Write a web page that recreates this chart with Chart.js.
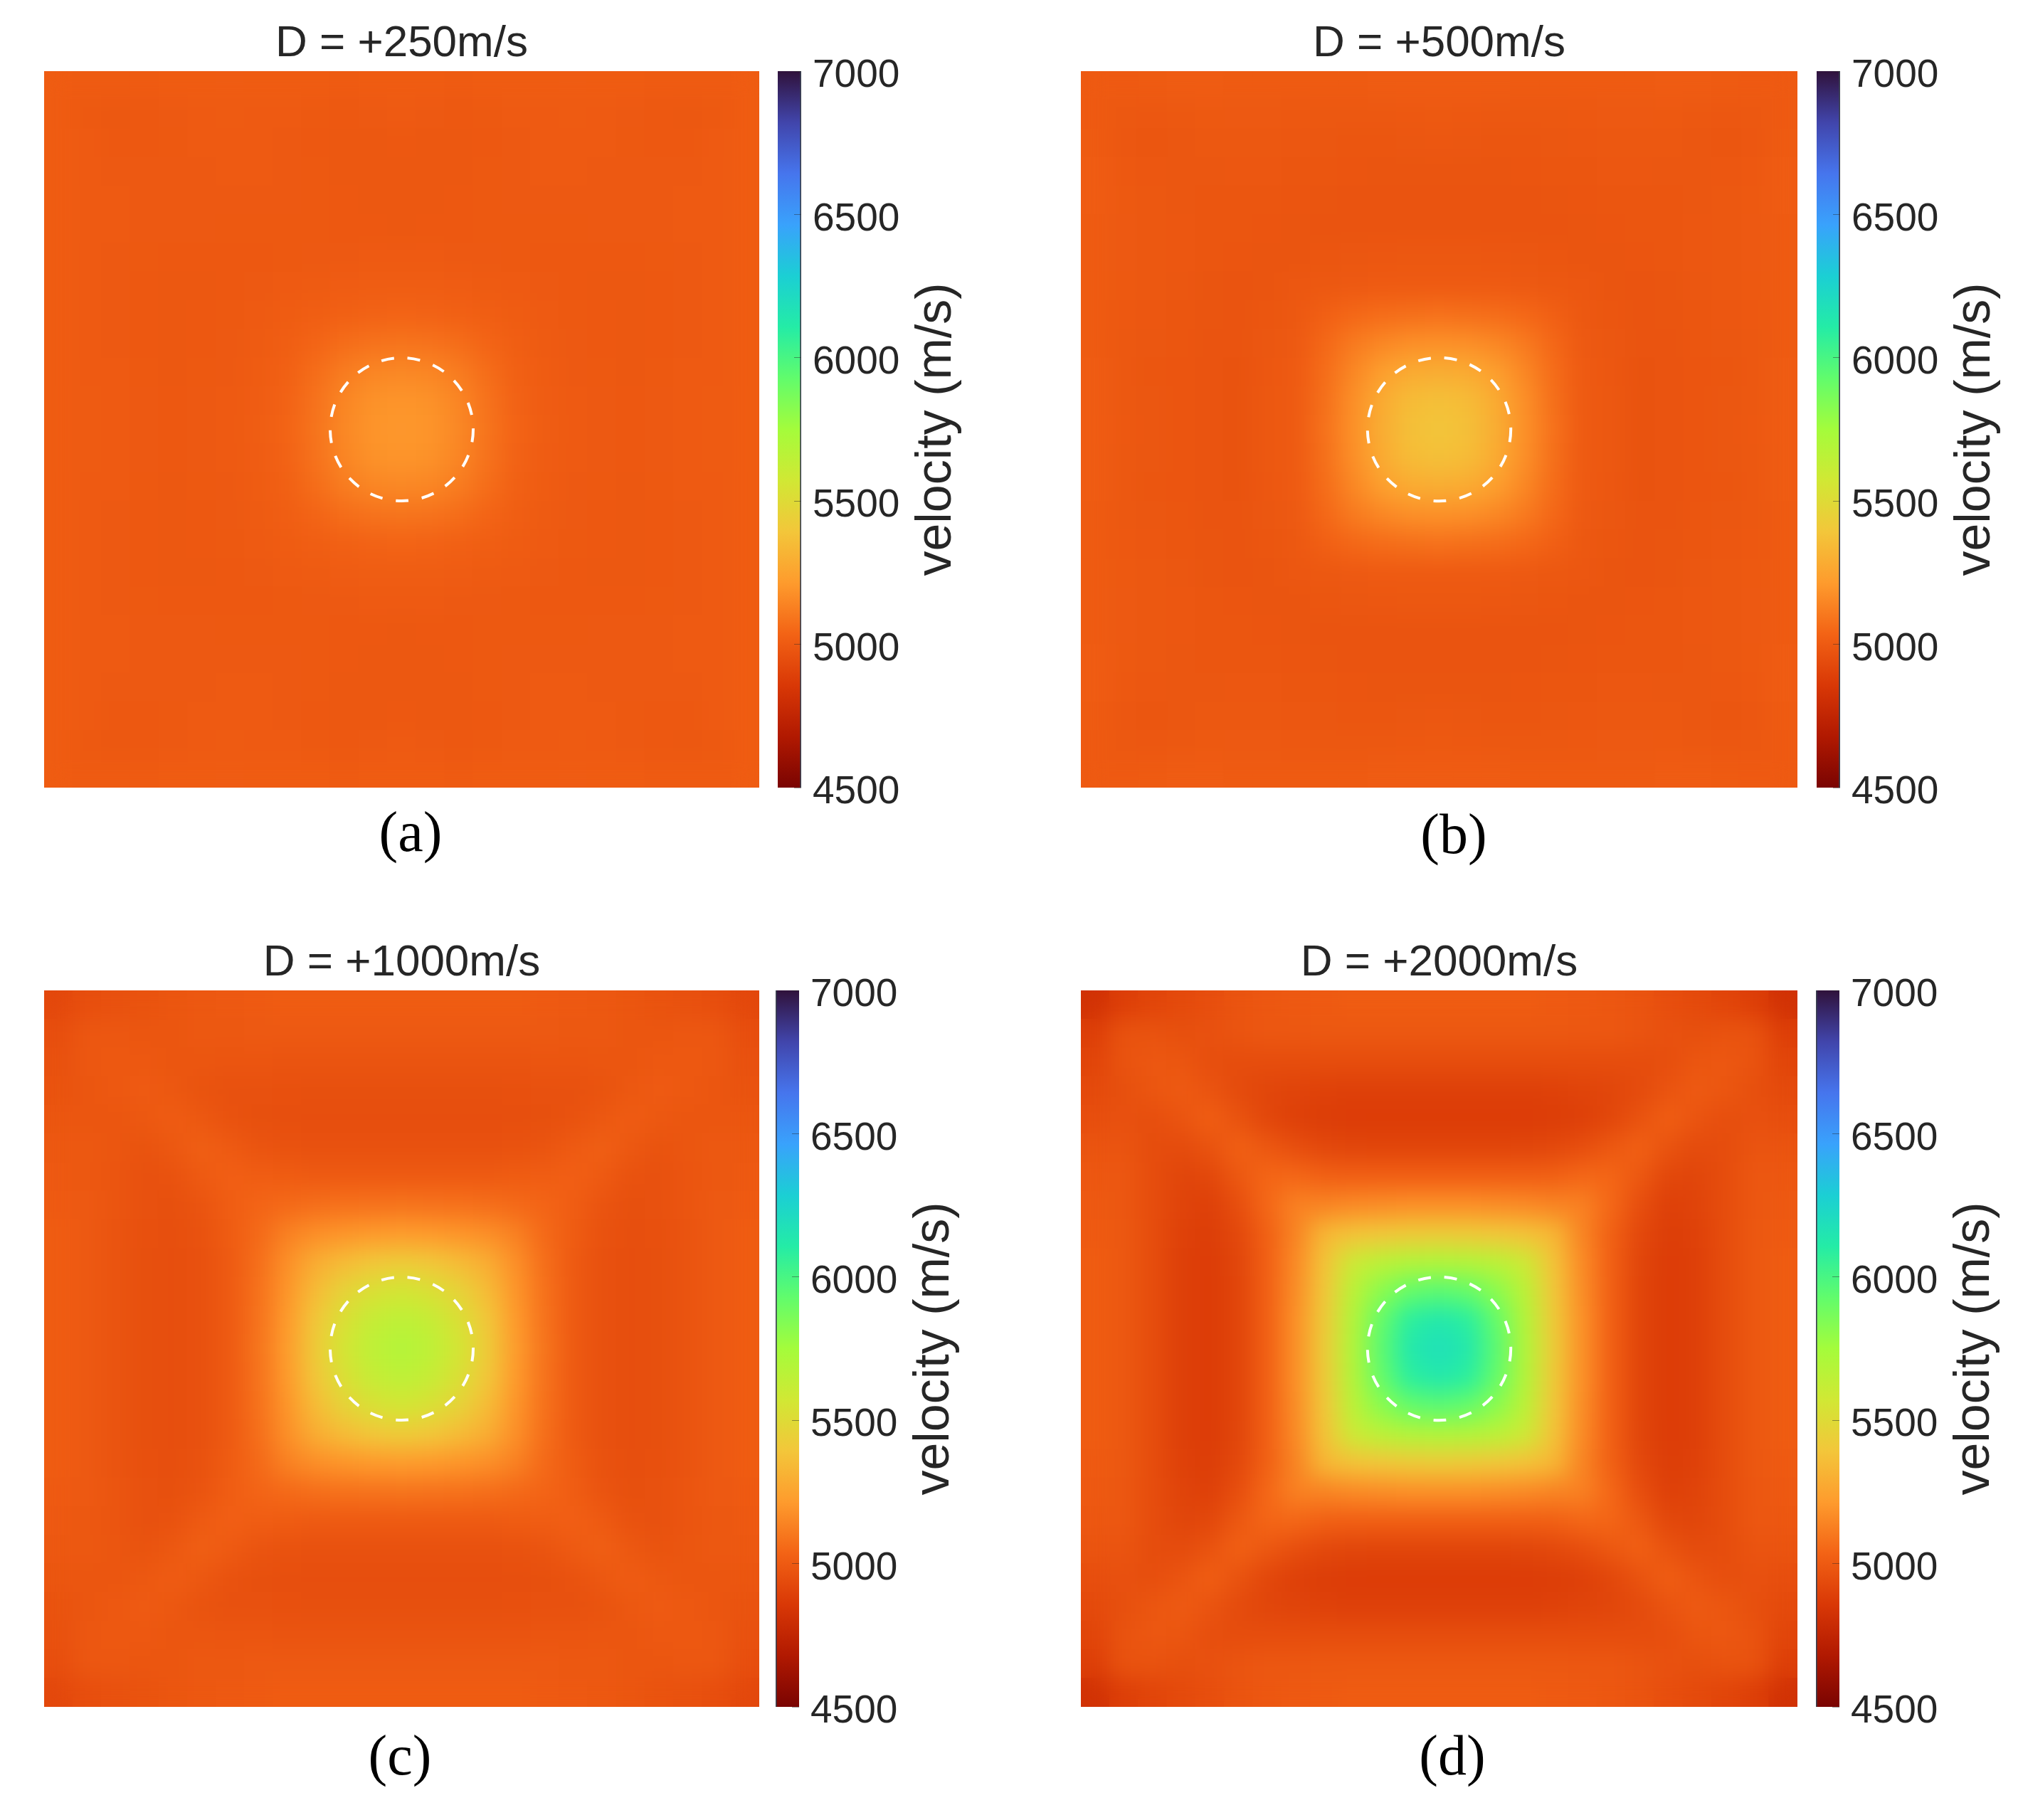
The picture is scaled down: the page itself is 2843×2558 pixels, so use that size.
<!DOCTYPE html>
<html>
<head>
<meta charset="utf-8">
<script src="https://cdn.jsdelivr.net/npm/chart.js@4"></script>
<style>
  html, body { margin: 0; padding: 0; background: #fff; }
  body { position: relative; width: 2843px; height: 2558px; overflow: hidden; }
  canvas { position: absolute; }
</style>
</head>
<body>
<script>
'use strict';

// Velocity, m/s, top row first
const velocityA = [
  [5005,5002,5002,5004,5005,5005,5006,5005,5005,5005,5004,5005,5005,5005,5004,5005,5005,5005,5006,5005,5005,5004,5002,5002,5005],
  [5005,4994,4990,4992,4996,5000,5002,5000,4998,4994,4992,4996,4998,4996,4992,4994,4998,5000,5002,5000,4996,4992,4990,4994,5005],
  [5005,4998,4992,4992,4994,4998,5000,4998,4996,4992,4988,4990,4992,4990,4988,4992,4996,4998,5000,4998,4994,4992,4992,4998,5005],
  [5005,5000,4996,4995,4995,4996,4998,4998,4996,4994,4990,4988,4990,4988,4990,4994,4996,4998,4998,4996,4995,4995,4996,5000,5005],
  [5005,5000,4998,4996,4996,4996,4996,4996,4995,4994,4992,4990,4988,4990,4992,4994,4995,4996,4996,4996,4996,4996,4998,5000,5005],
  [5005,5000,4998,4996,4995,4995,4994,4994,4994,4994,4992,4992,4990,4992,4992,4994,4994,4994,4994,4995,4995,4996,4998,5000,5005],
  [5005,5000,4996,4994,4992,4992,4992,4992,4994,4995,4996,4998,4998,4998,4996,4995,4994,4992,4992,4992,4992,4994,4996,5000,5005],
  [5005,5000,4996,4992,4990,4990,4992,4995,4998,5002,5008,5010,5010,5010,5008,5002,4998,4995,4992,4990,4990,4992,4996,5000,5005],
  [5005,5000,4996,4992,4990,4992,4994,4998,5005,5015,5025,5032,5035,5032,5025,5015,5005,4998,4994,4992,4990,4992,4996,5000,5005],
  [5005,5000,4996,4992,4990,4992,4995,5002,5015,5040,5068,5085,5090,5085,5068,5040,5015,5002,4995,4992,4990,4992,4996,5000,5005],
  [5005,5000,4998,4994,4990,4994,4996,5005,5025,5068,5115,5148,5155,5148,5115,5068,5025,5005,4996,4994,4990,4994,4998,5000,5005],
  [5005,5002,4998,4995,4992,4995,4998,5008,5032,5085,5148,5185,5195,5185,5148,5085,5032,5008,4998,4995,4992,4995,4998,5002,5005],
  [5005,5002,4998,4995,4992,4995,4998,5010,5035,5090,5155,5195,5205,5195,5155,5090,5035,5010,4998,4995,4992,4995,4998,5002,5005],
  [5005,5002,4998,4995,4992,4995,4998,5008,5032,5085,5148,5185,5195,5185,5148,5085,5032,5008,4998,4995,4992,4995,4998,5002,5005],
  [5005,5000,4998,4994,4990,4994,4996,5005,5025,5068,5115,5148,5155,5148,5115,5068,5025,5005,4996,4994,4990,4994,4998,5000,5005],
  [5005,5000,4996,4992,4990,4992,4995,5002,5015,5040,5068,5085,5090,5085,5068,5040,5015,5002,4995,4992,4990,4992,4996,5000,5005],
  [5005,5000,4996,4992,4990,4992,4994,4998,5005,5015,5025,5032,5035,5032,5025,5015,5005,4998,4994,4992,4990,4992,4996,5000,5005],
  [5005,5000,4996,4992,4990,4990,4992,4995,4998,5002,5008,5010,5010,5010,5008,5002,4998,4995,4992,4990,4990,4992,4996,5000,5005],
  [5005,5000,4996,4994,4992,4992,4992,4992,4994,4995,4996,4998,4998,4998,4996,4995,4994,4992,4992,4992,4992,4994,4996,5000,5005],
  [5005,5000,4998,4996,4995,4995,4994,4994,4994,4994,4992,4992,4990,4992,4992,4994,4994,4994,4994,4995,4995,4996,4998,5000,5005],
  [5005,5000,4998,4996,4996,4996,4996,4996,4995,4994,4992,4990,4988,4990,4992,4994,4995,4996,4996,4996,4996,4996,4998,5000,5005],
  [5005,5000,4996,4995,4995,4996,4998,4998,4996,4994,4990,4988,4990,4988,4990,4994,4996,4998,4998,4996,4995,4995,4996,5000,5005],
  [5005,4998,4992,4992,4994,4998,5000,4998,4996,4992,4988,4990,4992,4990,4988,4992,4996,4998,5000,4998,4994,4992,4992,4998,5005],
  [5005,4994,4990,4992,4996,5000,5002,5000,4998,4994,4992,4996,4998,4996,4992,4994,4998,5000,5002,5000,4996,4992,4990,4994,5005],
  [5005,5002,5002,5004,5005,5005,5006,5005,5005,5005,5004,5005,5005,5005,5004,5005,5005,5005,5006,5005,5005,5004,5002,5002,5005]
];

const velocityB = [
  [5000,5000,5004,5006,5006,5004,5004,5002,5004,5004,5006,5006,5008,5006,5006,5004,5004,5002,5004,5004,5006,5006,5004,5000,5000],
  [5000,4990,4986,4990,4994,4996,4996,4992,4990,4988,4990,4992,4994,4992,4990,4988,4990,4992,4996,4996,4994,4990,4986,4990,5000],
  [5004,4986,4982,4984,4988,4990,4990,4986,4984,4982,4982,4984,4986,4984,4982,4982,4984,4986,4990,4990,4988,4984,4982,4986,5004],
  [5006,4992,4986,4984,4984,4986,4986,4982,4980,4978,4976,4976,4976,4976,4976,4978,4980,4982,4986,4986,4984,4984,4986,4992,5006],
  [5006,4994,4988,4984,4982,4982,4982,4978,4976,4974,4972,4972,4972,4972,4972,4974,4976,4978,4982,4982,4982,4984,4988,4994,5006],
  [5004,4996,4990,4986,4982,4980,4978,4976,4974,4974,4974,4974,4974,4974,4974,4974,4974,4976,4978,4980,4982,4986,4990,4996,5004],
  [5004,4996,4990,4986,4980,4978,4976,4976,4980,4984,4986,4988,4990,4988,4986,4984,4980,4976,4976,4978,4980,4986,4990,4996,5004],
  [5002,4994,4988,4984,4976,4974,4976,4985,4990,4995,5000,5000,5000,5000,5000,4995,4990,4985,4976,4974,4976,4984,4988,4994,5002],
  [5004,4992,4986,4982,4976,4974,4980,4990,5020,5050,5065,5075,5080,5075,5065,5050,5020,4990,4980,4974,4976,4982,4986,4992,5004],
  [5004,4990,4984,4980,4974,4972,4984,4995,5050,5110,5150,5175,5180,5175,5150,5110,5050,4995,4984,4972,4974,4980,4984,4990,5004],
  [5006,4988,4982,4978,4972,4970,4986,5000,5065,5150,5230,5280,5290,5280,5230,5150,5065,5000,4986,4970,4972,4978,4982,4988,5006],
  [5006,4990,4984,4978,4972,4970,4988,5000,5075,5175,5280,5350,5370,5350,5280,5175,5075,5000,4988,4970,4972,4978,4984,4990,5006],
  [5008,4992,4984,4978,4972,4970,4990,5000,5080,5180,5290,5370,5390,5370,5290,5180,5080,5000,4990,4970,4972,4978,4984,4992,5008],
  [5006,4990,4984,4978,4972,4970,4988,5000,5075,5175,5280,5350,5370,5350,5280,5175,5075,5000,4988,4970,4972,4978,4984,4990,5006],
  [5006,4988,4982,4978,4972,4970,4986,5000,5065,5150,5230,5280,5290,5280,5230,5150,5065,5000,4986,4970,4972,4978,4982,4988,5006],
  [5004,4990,4984,4980,4974,4972,4984,4995,5050,5110,5150,5175,5180,5175,5150,5110,5050,4995,4984,4972,4974,4980,4984,4990,5004],
  [5004,4992,4986,4982,4976,4974,4980,4990,5020,5050,5065,5075,5080,5075,5065,5050,5020,4990,4980,4974,4976,4982,4986,4992,5004],
  [5002,4994,4988,4984,4976,4974,4976,4985,4990,4995,5000,5000,5000,5000,5000,4995,4990,4985,4976,4974,4976,4984,4988,4994,5002],
  [5004,4996,4990,4986,4980,4978,4976,4976,4980,4984,4986,4988,4990,4988,4986,4984,4980,4976,4976,4978,4980,4986,4990,4996,5004],
  [5004,4996,4990,4986,4982,4980,4978,4976,4974,4974,4974,4974,4974,4974,4974,4974,4974,4976,4978,4980,4982,4986,4990,4996,5004],
  [5006,4994,4988,4984,4982,4982,4982,4978,4976,4974,4972,4972,4972,4972,4972,4974,4976,4978,4982,4982,4982,4984,4988,4994,5006],
  [5006,4992,4986,4984,4984,4986,4986,4982,4980,4978,4976,4976,4976,4976,4976,4978,4980,4982,4986,4986,4984,4984,4986,4992,5006],
  [5004,4986,4982,4984,4988,4990,4990,4986,4984,4982,4982,4984,4986,4984,4982,4982,4984,4986,4990,4990,4988,4984,4982,4986,5004],
  [5000,4990,4986,4990,4994,4996,4996,4992,4990,4988,4990,4992,4994,4992,4990,4988,4990,4992,4996,4996,4994,4990,4986,4990,5000],
  [5000,5000,5004,5006,5006,5004,5004,5002,5004,5004,5006,5006,5008,5006,5006,5004,5004,5002,5004,5004,5006,5006,5004,5000,5000]
];

const velocityC = [
  [4925,4950,4960,4970,4980,4990,4995,5000,5005,5005,5005,5005,5005,5005,5005,5005,5005,5000,4995,4990,4980,4970,4960,4950,4925],
  [4950,4985,4985,4980,4980,4988,4990,4995,4995,4995,4995,4995,4995,4995,4995,4995,4995,4995,4990,4988,4980,4980,4985,4985,4950],
  [4960,4985,4992,4992,4980,4980,4978,4978,4975,4975,4975,4975,4975,4975,4975,4975,4975,4978,4978,4980,4980,4992,4992,4985,4960],
  [4970,4980,4992,4998,4990,4970,4962,4960,4958,4955,4955,4955,4955,4955,4955,4955,4958,4960,4962,4970,4990,4998,4992,4980,4970],
  [4980,4980,4980,4990,5005,4990,4965,4955,4952,4950,4950,4950,4950,4950,4950,4950,4952,4955,4965,4990,5005,4990,4980,4980,4980],
  [4990,4988,4980,4970,4990,5018,5000,4975,4965,4962,4960,4960,4960,4960,4960,4962,4965,4975,5000,5018,4990,4970,4980,4988,4990],
  [4995,4990,4978,4962,4965,5000,5020,5012,5005,5000,5000,5000,5000,5000,5000,5000,5005,5012,5020,5000,4965,4962,4978,4990,4995],
  [5000,4995,4978,4960,4955,4975,5012,5040,5055,5070,5080,5085,5090,5085,5080,5070,5055,5040,5012,4975,4955,4960,4978,4995,5000],
  [5005,4995,4975,4958,4952,4965,5005,5055,5130,5175,5195,5210,5220,5210,5195,5175,5130,5055,5005,4965,4952,4958,4975,4995,5005],
  [5005,4995,4975,4955,4950,4962,5000,5070,5175,5290,5350,5400,5420,5400,5350,5290,5175,5070,5000,4962,4950,4955,4975,4995,5005],
  [5005,4995,4975,4955,4950,4960,5000,5080,5195,5350,5460,5530,5560,5530,5460,5350,5195,5080,5000,4960,4950,4955,4975,4995,5005],
  [5005,4995,4975,4955,4950,4960,5000,5085,5210,5400,5530,5620,5650,5620,5530,5400,5210,5085,5000,4960,4950,4955,4975,4995,5005],
  [5005,4995,4975,4955,4950,4960,5000,5090,5220,5420,5560,5650,5690,5650,5560,5420,5220,5090,5000,4960,4950,4955,4975,4995,5005],
  [5005,4995,4975,4955,4950,4960,5000,5085,5210,5400,5530,5620,5650,5620,5530,5400,5210,5085,5000,4960,4950,4955,4975,4995,5005],
  [5005,4995,4975,4955,4950,4960,5000,5080,5195,5350,5460,5530,5560,5530,5460,5350,5195,5080,5000,4960,4950,4955,4975,4995,5005],
  [5005,4995,4975,4955,4950,4962,5000,5070,5175,5290,5350,5400,5420,5400,5350,5290,5175,5070,5000,4962,4950,4955,4975,4995,5005],
  [5005,4995,4975,4958,4952,4965,5005,5055,5130,5175,5195,5210,5220,5210,5195,5175,5130,5055,5005,4965,4952,4958,4975,4995,5005],
  [5000,4995,4978,4960,4955,4975,5012,5040,5055,5070,5080,5085,5090,5085,5080,5070,5055,5040,5012,4975,4955,4960,4978,4995,5000],
  [4995,4990,4978,4962,4965,5000,5020,5012,5005,5000,5000,5000,5000,5000,5000,5000,5005,5012,5020,5000,4965,4962,4978,4990,4995],
  [4990,4988,4980,4970,4990,5018,5000,4975,4965,4962,4960,4960,4960,4960,4960,4962,4965,4975,5000,5018,4990,4970,4980,4988,4990],
  [4980,4980,4980,4990,5005,4990,4965,4955,4952,4950,4950,4950,4950,4950,4950,4950,4952,4955,4965,4990,5005,4990,4980,4980,4980],
  [4970,4980,4992,4998,4990,4970,4962,4960,4958,4955,4955,4955,4955,4955,4955,4955,4958,4960,4962,4970,4990,4998,4992,4980,4970],
  [4960,4985,4992,4992,4980,4980,4978,4978,4975,4975,4975,4975,4975,4975,4975,4975,4975,4978,4978,4980,4980,4992,4992,4985,4960],
  [4950,4985,4985,4980,4980,4988,4990,4995,4995,4995,4995,4995,4995,4995,4995,4995,4995,4995,4990,4988,4980,4980,4985,4985,4950],
  [4925,4950,4960,4970,4980,4990,4995,5000,5005,5005,5005,5005,5005,5005,5005,5005,5005,5000,4995,4990,4980,4970,4960,4950,4925]
];

const velocityD = [
  [4820,4885,4910,4930,4950,4975,4985,4995,5000,5005,5005,5005,5005,5005,5005,5005,5000,4995,4985,4975,4950,4930,4910,4885,4820],
  [4885,4970,4970,4955,4960,4975,4985,4985,4990,4990,4990,4990,4990,4990,4990,4990,4990,4985,4985,4975,4960,4955,4970,4970,4885],
  [4910,4970,4985,4980,4950,4945,4945,4945,4945,4945,4945,4945,4945,4945,4945,4945,4945,4945,4945,4945,4950,4980,4985,4970,4910],
  [4930,4955,4980,4998,4975,4935,4915,4905,4895,4890,4890,4890,4890,4890,4890,4890,4895,4905,4915,4935,4975,4998,4980,4955,4930],
  [4950,4960,4950,4975,5015,4970,4920,4890,4880,4875,4875,4875,4875,4875,4875,4875,4880,4890,4920,4970,5015,4975,4950,4960,4950],
  [4975,4975,4945,4935,4970,5025,4990,4950,4925,4915,4910,4910,4910,4910,4910,4915,4925,4950,4990,5025,4970,4935,4945,4975,4975],
  [4985,4985,4945,4915,4920,4990,5045,5050,5025,5020,5020,5020,5020,5020,5020,5020,5025,5050,5045,4990,4920,4915,4945,4985,4985],
  [4995,4985,4945,4905,4890,4950,5050,5130,5140,5160,5170,5180,5180,5180,5170,5160,5140,5130,5050,4950,4890,4905,4945,4985,4995],
  [5000,4990,4945,4895,4880,4925,5025,5140,5330,5380,5400,5415,5420,5415,5400,5380,5330,5140,5025,4925,4880,4895,4945,4990,5000],
  [5005,4990,4945,4890,4875,4915,5020,5160,5380,5590,5660,5690,5700,5690,5660,5590,5380,5160,5020,4915,4875,4890,4945,4990,5005],
  [5005,4990,4945,4890,4875,4910,5020,5170,5400,5660,5820,5920,5950,5920,5820,5660,5400,5170,5020,4910,4875,4890,4945,4990,5005],
  [5005,4990,4945,4890,4875,4910,5020,5180,5415,5690,5920,6090,6130,6090,5920,5690,5415,5180,5020,4910,4875,4890,4945,4990,5005],
  [5005,4990,4945,4890,4875,4910,5020,5180,5420,5700,5950,6130,6180,6130,5950,5700,5420,5180,5020,4910,4875,4890,4945,4990,5005],
  [5005,4990,4945,4890,4875,4910,5020,5180,5415,5690,5920,6090,6130,6090,5920,5690,5415,5180,5020,4910,4875,4890,4945,4990,5005],
  [5005,4990,4945,4890,4875,4910,5020,5170,5400,5660,5820,5920,5950,5920,5820,5660,5400,5170,5020,4910,4875,4890,4945,4990,5005],
  [5005,4990,4945,4890,4875,4915,5020,5160,5380,5590,5660,5690,5700,5690,5660,5590,5380,5160,5020,4915,4875,4890,4945,4990,5005],
  [5000,4990,4945,4895,4880,4925,5025,5140,5330,5380,5400,5415,5420,5415,5400,5380,5330,5140,5025,4925,4880,4895,4945,4990,5000],
  [4995,4985,4945,4905,4890,4950,5050,5130,5140,5160,5170,5180,5180,5180,5170,5160,5140,5130,5050,4950,4890,4905,4945,4985,4995],
  [4985,4985,4945,4915,4920,4990,5045,5050,5025,5020,5020,5020,5020,5020,5020,5020,5025,5050,5045,4990,4920,4915,4945,4985,4985],
  [4975,4975,4945,4935,4970,5025,4990,4950,4925,4915,4910,4910,4910,4910,4910,4915,4925,4950,4990,5025,4970,4935,4945,4975,4975],
  [4950,4960,4950,4975,5015,4970,4920,4890,4880,4875,4875,4875,4875,4875,4875,4875,4880,4890,4920,4970,5015,4975,4950,4960,4950],
  [4930,4955,4980,4998,4975,4935,4915,4905,4895,4890,4890,4890,4890,4890,4890,4890,4895,4905,4915,4935,4975,4998,4980,4955,4930],
  [4910,4970,4985,4980,4950,4945,4945,4945,4945,4945,4945,4945,4945,4945,4945,4945,4945,4945,4945,4945,4950,4980,4985,4970,4910],
  [4885,4970,4970,4955,4960,4975,4985,4985,4990,4990,4990,4990,4990,4990,4990,4990,4990,4985,4985,4975,4960,4955,4970,4970,4885],
  [4820,4885,4910,4930,4950,4975,4985,4995,5000,5005,5005,5005,5005,5005,5005,5005,5000,4995,4985,4975,4950,4930,4910,4885,4820]
];

const panelTitles = ['D = +250m/s', 'D = +500m/s', 'D = +1000m/s', 'D = +2000m/s'];
const panelCaptions = ['(a)', '(b)', '(c)', '(d)'];
const velocityMin = 4500;
const velocityMax = 7000;
const velocityStep = 500;
// Colormap from velocityMax down to velocityMin
const colorStops = ['#30123b', '#4145ab', '#4675ed', '#39a2fc', '#1bcfd4', '#24eca6', '#61fc6c', '#a4fc3b', '#d1e834', '#f3c63a', '#fe9b2d', '#f36315', '#d93806', '#b11901', '#7a0402'];

const panelMatrices = [velocityA, velocityB, velocityC, velocityD];

// Page layout, in pixels of the page
const layouts = [
  { left: 62, top: 100, size: 1005, barLeft: 1093, barEdge: 'right', captionX: 515, captionY: 1175 - 100 },
  { left: 1519, top: 100, size: 1007, barLeft: 2553, barEdge: 'right', captionX: 524, captionY: 1178 - 100 },
  { left: 62, top: 1392, size: 1005, barLeft: 1090, barEdge: 'left', captionX: 500, captionY: 2473 - 1392 },
  { left: 1519, top: 1392, size: 1007, barLeft: 2552, barEdge: 'left', captionX: 522, captionY: 2473 - 1392 }
];
const plotHeight = 1007;
const titleOffset = 78;
const captionRoom = 130;
const barWidth = 33;
const barAxisWidth = 260;
const barPadding = 70; // has to cover half a tick label plus ticks.padding
const textColor = '#262626';

const hexToRgb = hex => [1, 3, 5].map(i => parseInt(hex.slice(i, i + 2), 16));

function velocityColor(value) {
    const t = (velocityMax - value) / (velocityMax - velocityMin);
    const pos = Math.min(Math.max(t, 0), 1) * (colorStops.length - 1);
    const i = Math.min(Math.floor(pos), colorStops.length - 2);
    const a = hexToRgb(colorStops[i]);
    const b = hexToRgb(colorStops[i + 1]);
    const f = pos - i;
    const mix = a.map((c, k) => Math.round(c + (b[k] - c) * f));
    return `rgb(${mix[0]}, ${mix[1]}, ${mix[2]})`;
}

function addCanvas(left, top, width, height) {
    const canvas = document.createElement('canvas');
    canvas.width = width;
    canvas.height = height;
    canvas.style.left = left + 'px';
    canvas.style.top = top + 'px';
    canvas.style.width = width + 'px';
    canvas.style.height = height + 'px';
    document.body.appendChild(canvas);
    return canvas;
}

// Smooths the cells like an interpolated image, then puts the circle and the caption on top
const smoothAndMark = {
    id: 'smoothAndMark',
    afterDatasetsDraw(chart, args, opts) {
        const { ctx, chartArea: area, scales } = chart;
        const copy = document.createElement('canvas');
        copy.width = chart.width;
        copy.height = chart.height;
        const w = area.right - area.left;
        const h = area.bottom - area.top;
        copy.getContext('2d').drawImage(chart.canvas, area.left, area.top, w, h, area.left, area.top, w, h);

        ctx.save();
        ctx.beginPath();
        ctx.rect(area.left, area.top, w, h);
        ctx.clip();
        ctx.filter = 'blur(16px)';
        ctx.drawImage(copy, 0, 0);
        ctx.filter = 'none';
        ctx.restore();

        const n = opts.cells;
        ctx.save();
        ctx.strokeStyle = '#fff';
        ctx.lineWidth = 4;
        ctx.setLineDash([18, 19]);
        ctx.beginPath();
        const rx = scales.x.getPixelForValue(n / 2 + n / 10) - scales.x.getPixelForValue(n / 2);
        ctx.arc(scales.x.getPixelForValue(n / 2), scales.y.getPixelForValue(n / 2), rx, 0, Math.PI * 2);
        ctx.stroke();
        ctx.restore();

        ctx.save();
        ctx.fillStyle = '#000';
        ctx.font = '80px "Liberation Serif"';
        ctx.textAlign = 'center';
        ctx.textBaseline = 'middle';
        ctx.fillText(opts.caption, opts.captionX, area.top + opts.captionY);
        ctx.restore();
    }
};

// Chart.js turns a right axis title clockwise, this one reads upwards
const barLabel = {
    id: 'barLabel',
    afterDraw(chart) {
        const { ctx, chartArea: area } = chart;
        ctx.save();
        ctx.translate(area.left + 224, (area.top + area.bottom) / 2);
        ctx.rotate(-Math.PI / 2);
        ctx.fillStyle = textColor;
        ctx.font = '70px "Liberation Sans"';
        ctx.textAlign = 'center';
        ctx.textBaseline = 'middle';
        ctx.fillText('velocity (m/s)', 0, 0);
        ctx.restore();
    }
};

function createHeatPanel(index) {
    const matrix = panelMatrices[index];
    const box = layouts[index];
    const n = matrix.length;
    const points = [];
    matrix.forEach((row, r) => row.forEach((v, c) => points.push({ x: c + 0.5, y: r + 0.5, v })));

    const canvas = addCanvas(box.left, box.top - titleOffset, box.size, titleOffset + plotHeight + captionRoom);
    return new Chart(canvas, {
        type: 'scatter',
        data: {
            datasets: [{
                data: points,
                pointStyle: 'rect',
                pointRadius: 29,
                pointBorderWidth: 0,
                pointBackgroundColor: ctx => velocityColor(ctx.raw ? ctx.raw.v : 5000),
                clip: 0
            }]
        },
        options: {
            responsive: false,
            animation: false,
            events: [],
            layout: { autoPadding: false, padding: { left: 0, right: 0, top: 0, bottom: captionRoom } },
            scales: {
                x: { type: 'linear', display: false, min: 0, max: n },
                y: { type: 'linear', display: false, min: 0, max: n, reverse: true }
            },
            plugins: {
                legend: { display: false },
                tooltip: { enabled: false },
                title: {
                    display: true,
                    text: panelTitles[index],
                    color: textColor,
                    font: { family: 'Liberation Sans', size: 62, weight: 'normal', lineHeight: 1.2 },
                    padding: { top: 3, bottom: 0.6 }
                },
                smoothAndMark: {
                    cells: n,
                    caption: panelCaptions[index],
                    captionX: box.captionX,
                    captionY: box.captionY
                }
            }
        },
        plugins: [smoothAndMark]
    });
}

function createColorBar(index) {
    const box = layouts[index];
    const canvas = addCanvas(box.barLeft, box.top - barPadding, barWidth + barAxisWidth, plotHeight + barPadding * 2);
    return new Chart(canvas, {
        type: 'bar',
        data: {
            labels: [''],
            datasets: [{
                data: [[velocityMin, velocityMax]],
                categoryPercentage: 1,
                barPercentage: 1,
                borderSkipped: false,
                borderColor: '#3a4150',
                borderWidth: box.barEdge === 'left' ? { left: 2, right: 0, top: 0, bottom: 0 } : { left: 0, right: 2, top: 0, bottom: 0 },
                backgroundColor: ctx => {
                    const area = ctx.chart.chartArea;
                    if (!area) return colorStops[0];
                    const gradient = ctx.chart.ctx.createLinearGradient(0, area.top, 0, area.bottom);
                    colorStops.forEach((c, i) => gradient.addColorStop(i / (colorStops.length - 1), c));
                    return gradient;
                }
            }]
        },
        options: {
            responsive: false,
            animation: false,
            events: [],
            layout: { autoPadding: false, padding: { left: 0, right: 0, top: barPadding, bottom: barPadding } },
            scales: {
                x: { display: false },
                y: {
                    position: 'right',
                    min: velocityMin,
                    max: velocityMax,
                    afterFit: scale => { scale.width = barAxisWidth; },
                    border: { display: false },
                    grid: {
                        drawOnChartArea: false,
                        tickLength: -10,
                        color: 'rgba(38, 38, 38, 0.45)',
                        z: 1
                    },
                    ticks: {
                        stepSize: velocityStep,
                        padding: 26,
                        labelOffset: 7,
                        color: textColor,
                        font: { family: 'Liberation Sans', size: 55 },
                        callback: value => String(value)
                    }
                }
            },
            plugins: {
                legend: { display: false },
                tooltip: { enabled: false },
                title: { display: false }
            }
        },
        plugins: [barLabel]
    });
}

panelMatrices.forEach((matrix, i) => {
    createHeatPanel(i);
    createColorBar(i);
});
</script>
</body>
</html>
